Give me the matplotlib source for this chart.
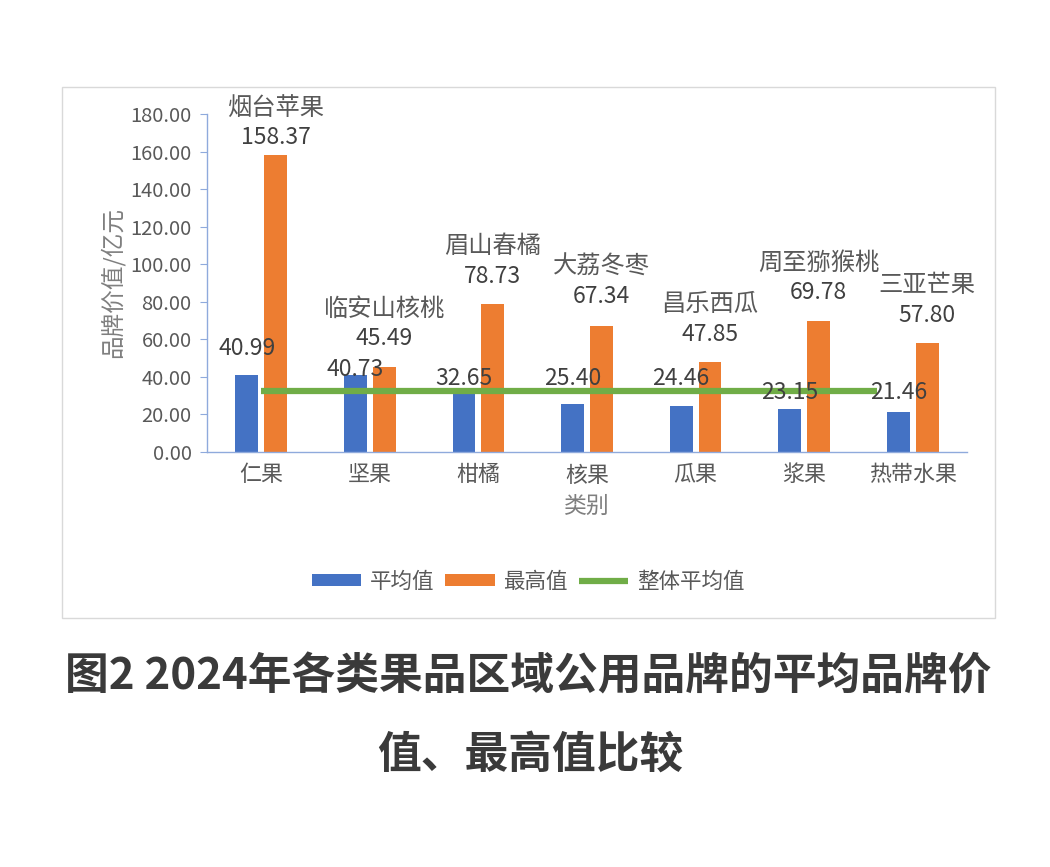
import matplotlib
matplotlib.use('Agg')
import matplotlib.pyplot as plt
from matplotlib.patches import Rectangle
import numpy as np

plt.rcParams['font.family'] = ['Noto Sans CJK SC', 'DejaVu Sans']

# 数据
categories = ['仁果', '坚果', '柑橘', '核果', '瓜果', '浆果', '热带水果']
avg_values = [40.99, 40.73, 32.65, 25.40, 24.46, 23.15, 21.46]
max_values = [158.37, 45.49, 78.73, 67.34, 47.85, 69.78, 57.80]
top_brands = ['烟台苹果', '临安山核桃', '眉山春橘', '大荔冬枣', '昌乐西瓜', '周至猕猴桃', '三亚芒果']
overall_avg = 32.4

blue = '#4472C4'
orange = '#ED7D31'
green = '#70AD47'
gray = '#595959'

fig = plt.figure(figsize=(10.5, 8.67), dpi=100)
ax = fig.add_axes([0.197, 0.4787, 0.724, 0.3898])

x = np.arange(len(categories))
w = 0.21
off = 0.133
b1 = ax.bar(x - off, avg_values, w, color=blue, label='平均值', zorder=2)
b2 = ax.bar(x + off, max_values, w, color=orange, label='最高值', zorder=2)
ln, = ax.plot([x[0], x[-1] - 0.33], [overall_avg, overall_avg], color=green, lw=4.5,
              solid_capstyle='butt', label='整体平均值', zorder=3)

# 数据标签（偏移量，像素）
avg_offsets = [27, 6, 12, 26, 28, 16, 19]
max_offsets = [17, 28, 28, 29, 28, 28, 28]
for i in range(len(categories)):
    ax.annotate(f'{avg_values[i]:.2f}', (x[i] - off, avg_values[i]),
                xytext=(0, avg_offsets[i] * 0.72), textcoords='offset points',
                ha='center', va='center', fontsize=16.5, color='#404040', zorder=4)
    ax.annotate(f'{max_values[i]:.2f}', (x[i] + off, max_values[i]),
                xytext=(0, max_offsets[i] * 0.72), textcoords='offset points',
                ha='center', va='center', fontsize=16.5, color='#404040', zorder=4)
    ax.annotate(top_brands[i], (x[i] + off, max_values[i]),
                xytext=(0, (max_offsets[i] + 30) * 0.72), textcoords='offset points',
                ha='center', va='center', fontsize=17.5, color=gray, zorder=4)

ax.set_xlim(-0.5, 6.5)
ax.set_ylim(0, 180)
ax.set_yticks(np.arange(0, 181, 20))
ax.set_yticklabels([f'{v:.2f}' for v in np.arange(0, 181, 20)])
ax.set_xticks(x)
ax.set_xticklabels(categories)
ax.tick_params(axis='y', direction='out', length=5, color='#8FAADC', labelsize=14.5,
               labelcolor=gray, pad=6)
ax.tick_params(axis='x', length=0, labelsize=15.8, labelcolor=gray, pad=9)
for s in ['top', 'right']:
    ax.spines[s].set_visible(False)
ax.spines['left'].set_color('#8FAADC')
ax.spines['bottom'].set_color('#8FAADC')
ax.spines['left'].set_linewidth(1)
ax.spines['bottom'].set_linewidth(1)

ax.set_xlabel('类别', fontsize=16.5, color='#7F7F7F', labelpad=6)
ax.set_ylabel('品牌价值/亿元', fontsize=17, color='#7F7F7F', labelpad=4)

fig.legend([b1, b2, ln], ['平均值', '最高值', '整体平均值'], loc='center',
           bbox_to_anchor=(528 / 1050, 1 - 582 / 867), ncol=3,
           frameon=False, fontsize=15.5, handlelength=2.3, handleheight=0.5,
           handletextpad=0.4, columnspacing=0.5, labelcolor=gray)

# 图框
fig.patches.append(Rectangle((62 / 1050, 1 - 618 / 867), (995 - 62) / 1050, (618 - 87) / 867,
                             transform=fig.transFigure, fill=False, edgecolor='#D9D9D9', lw=1))

fig.text(0.503, 1 - 677 / 867, '图2 2024年各类果品区域公用品牌的平均品牌价', ha='center', va='center',
         fontsize=31.5, fontweight='bold', color='#3A3A3A')
fig.text(0.505, 1 - 755 / 867, '值、最高值比较', ha='center', va='center',
         fontsize=31.5, fontweight='bold', color='#3A3A3A')

plt.savefig('out.png', dpi=100)
